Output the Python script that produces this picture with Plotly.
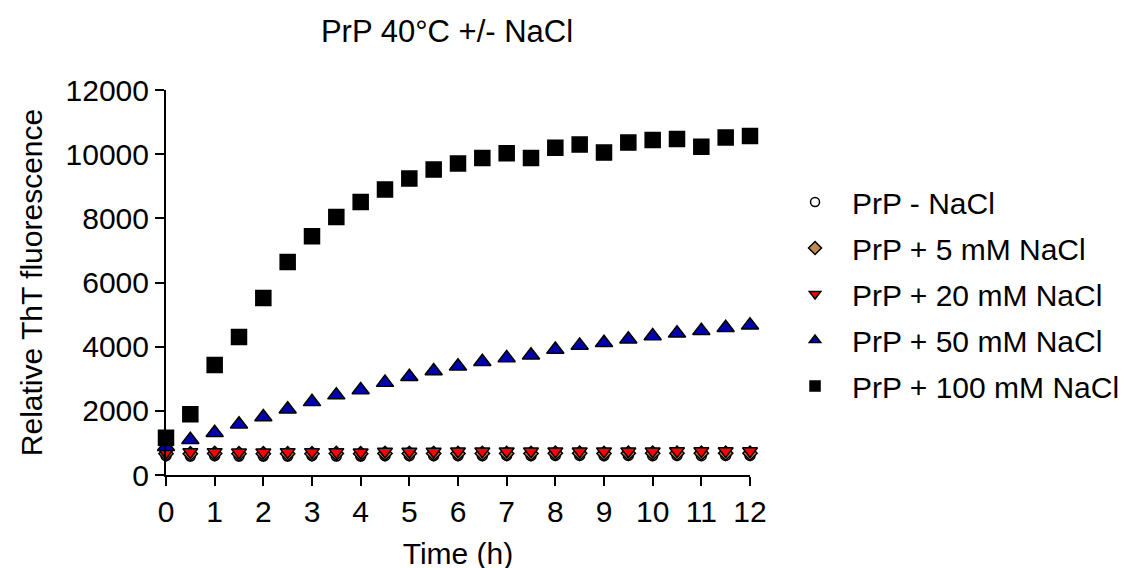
import plotly.graph_objects as go

time_h = [0, 0.5, 1, 1.5, 2, 2.5, 3, 3.5, 4, 4.5, 5, 5.5, 6, 6.5, 7, 7.5, 8, 8.5, 9, 9.5, 10, 10.5, 11, 11.5, 12]

no_nacl = [600, 590, 600, 590, 590, 590, 600, 590, 590, 600, 600, 600, 600, 600, 610, 600, 610, 610, 600, 610, 600, 610, 600, 610, 610]
nacl_5 = [660, 660, 670, 660, 660, 660, 660, 670, 660, 670, 670, 670, 670, 670, 670, 670, 680, 680, 670, 680, 680, 680, 680, 680, 680]
nacl_20 = [700, 720, 720, 710, 710, 720, 720, 720, 710, 730, 730, 730, 740, 740, 740, 740, 740, 740, 740, 740, 740, 750, 750, 750, 750]
nacl_50 = [880, 1100, 1320, 1580, 1810, 2050, 2280, 2490, 2650, 2880, 3060, 3240, 3390, 3530, 3650, 3730, 3910, 4040, 4120, 4230, 4330, 4420, 4500, 4590, 4670]
nacl_100 = [1160, 1890, 3430, 4300, 5520, 6640, 7440, 8040, 8510, 8900, 9240, 9520, 9710, 9880, 10030, 9880, 10200, 10300, 10050, 10360, 10440, 10470, 10230, 10520, 10570]

names = ["PrP - NaCl", "PrP + 5 mM NaCl", "PrP + 20 mM NaCl", "PrP + 50 mM NaCl", "PrP + 100 mM NaCl"]
series = [no_nacl, nacl_5, nacl_20, nacl_50, nacl_100]
symbols = ["circle", "diamond", "triangle-down", "triangle-up", "square"]
fills = ["#ffffff", "#c08a4e", "#ff0000", "#0000b0", "#000000"]
sizes = [10, 11, 13, 15, 15]
legend_sizes = [9, 10, 10, 10, 10]

FONT = "Arial, 'Liberation Sans', sans-serif"

fig = go.Figure()
for i, (nm, ys) in enumerate(zip(names, series)):
    fig.add_trace(go.Scatter(
        x=time_h, y=ys, mode="markers", name=nm, showlegend=False,
        cliponaxis=False,
        marker=dict(symbol=symbols[i], size=sizes[i], color=fills[i],
                    line=dict(color="#000000", width=1.5)),
    ))
for i, nm in enumerate(names):
    fig.add_trace(go.Scatter(
        x=[None], y=[None], mode="markers", name=nm, showlegend=True,
        legendgroup=f"g{i}",
        marker=dict(symbol=symbols[i], size=legend_sizes[i], color=fills[i],
                    line=dict(color="#000000", width=1.5)),
    ))

axis_common = dict(
    showline=True, linecolor="#000000", linewidth=2,
    ticks="outside", ticklen=9, tickwidth=2, tickcolor="#000000",
    showgrid=False, zeroline=False,
    tickfont=dict(family=FONT, size=30, color="#000000"),
)

fig.update_layout(
    width=1133, height=568,
    paper_bgcolor="#ffffff", plot_bgcolor="#ffffff",
    margin=dict(l=158, r=391, t=82, b=101),
    font=dict(family=FONT, color="#000000"),
    title=dict(text="PrP 40°C +/- NaCl", x=0.3875, xref="container", xanchor="center",
               y=0.9595, yref="container", yanchor="middle",
               font=dict(family=FONT, size=31, color="#000000")),
    xaxis=dict(range=[0, 12], tickmode="array", tickvals=list(range(13)),
               title=dict(text="Time (h)", font=dict(family=FONT, size=30, color="#000000"), standoff=16),
               **axis_common),
    yaxis=dict(range=[0, 12000], tickmode="array", tickvals=[0, 2000, 4000, 6000, 8000, 10000, 12000],
               ticktext=["0", "2000", "4000", "6000", "8000", "10000", "12000"],
               title=dict(text="Relative ThT fluorescence", font=dict(family=FONT, size=30, color="#000000"), standoff=14),
               **axis_common),
    legend=dict(x=1.048, xanchor="left", y=0.47, yanchor="middle",
                font=dict(family=FONT, size=30, color="#000000"),
                tracegroupgap=4, itemsizing="trace", itemwidth=64, bgcolor="rgba(0,0,0,0)"),
)

fig.write_html("out.html")
